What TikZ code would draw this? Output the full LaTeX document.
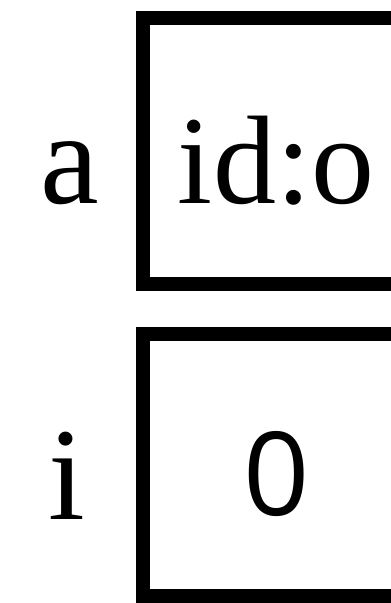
\documentclass[tikz,border=0pt]{standalone}
\usepackage{fontspec}
\setmainfont{Liberation Serif}
\newfontfamily\digitfont{Open Sans}
\usepackage{tikz}
\usetikzlibrary{positioning,calc}
\tikzset{
	cell/.style={draw, line width=14pt, minimum width=266pt, inner sep=0pt},
	varname/.style={anchor=base, inner sep=0pt, font=\fontsize{132}{136}\selectfont},
	cellval/.style={anchor=base, inner sep=0pt}
}
\begin{document}
\begin{tikzpicture}[x=1pt, y=1pt]
	\clip (0,0) rectangle (391,-603);
	\useasboundingbox (0,0) rectangle (391,-603);
	
	%% ── Variable a ──────────────────────────────────────────────────
	\node[cell, minimum height=266pt] (abox) at (276,-151) {};
	\node[varname] (alab) at (70,-203) {a};
	\node[cellval, font=\fontsize{126}{130}\selectfont] (aval) at (276,-203) {id:o};
	
	%% ── Variable i ──────────────────────────────────────────────────
	\node[cell, minimum height=262pt] (ibox) at (276,-465) {};
	\node[varname] (ilab) at (67,-519) {i};
	\node[cellval, font=\digitfont\fontsize{116}{120}\selectfont] (ival) at (277,-515) {0};
\end{tikzpicture}
\end{document}
